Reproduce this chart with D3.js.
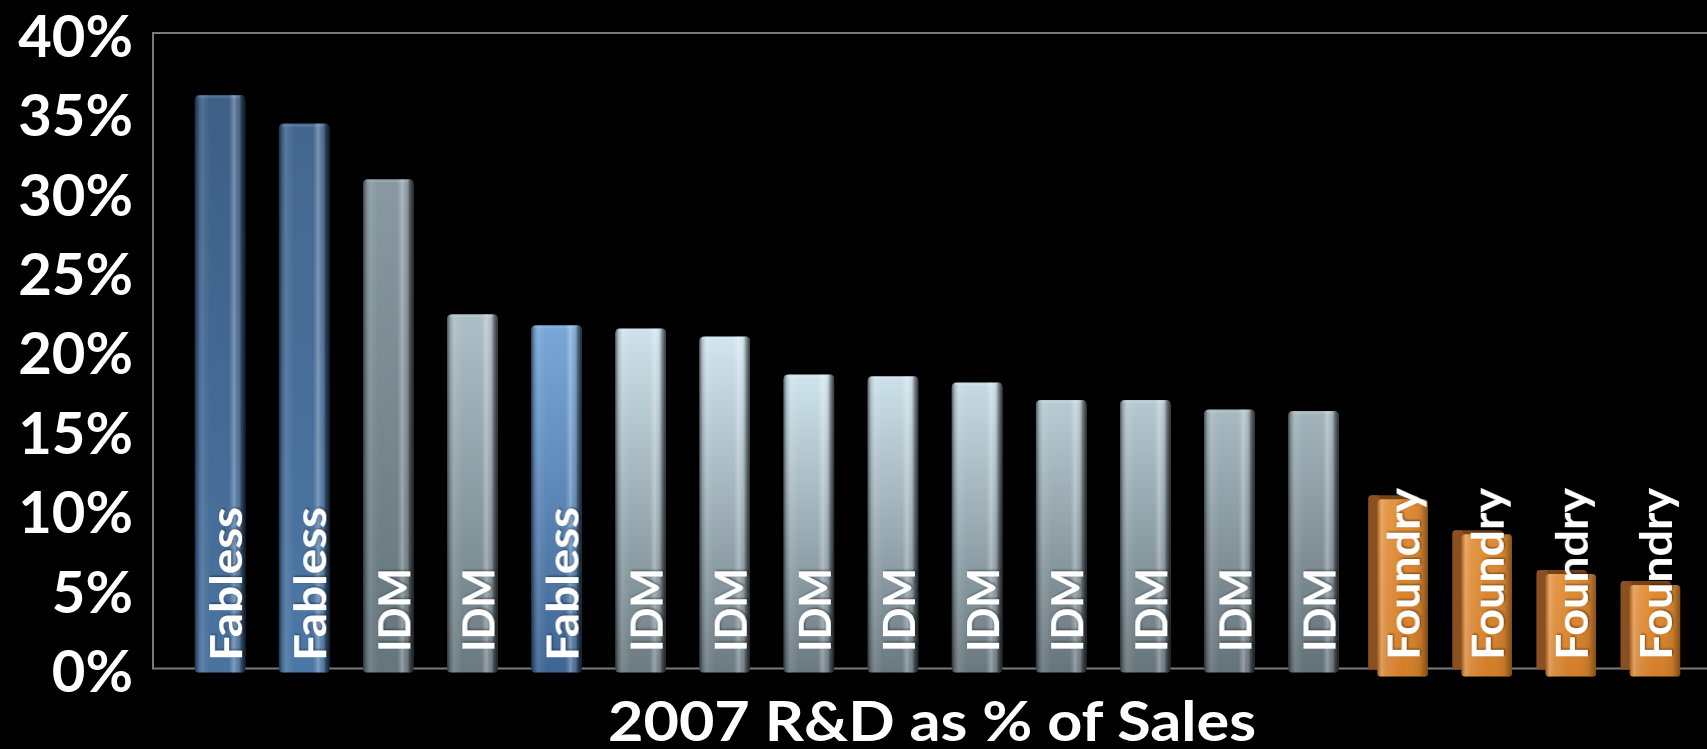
<!DOCTYPE html>
<html>
<head>
<meta charset="utf-8">
<script src="https://cdn.jsdelivr.net/npm/d3@7"></script>
<style>
  html, body { margin: 0; padding: 0; background: #000; overflow: hidden; }
  svg { display: block; }
</style>
</head>
<body>
<svg id="chart" width="1707" height="749"></svg>
<script>
// ---------------- data ----------------
const categories = ["Fabless","Fabless","IDM","IDM","Fabless","IDM","IDM","IDM","IDM","IDM","IDM","IDM","IDM","IDM","Foundry","Foundry","Foundry","Foundry"];
const values = [36.1, 34.3, 30.8, 22.3, 21.6, 21.4, 20.9, 18.5, 18.4, 18.0, 16.9, 16.9, 16.3, 16.2, 10.9, 8.7, 6.2, 5.5];
const yTickValues = [0, 5, 10, 15, 20, 25, 30, 35, 40];
const yTickLabels = ["0%", "5%", "10%", "15%", "20%", "25%", "30%", "35%", "40%"];
const xTitle = "2007 R&D as % of Sales";

// ---------------- styles (per bar vertical colours) ----------------
const barTop = ["#3e5f86","#44678f","#8899a1","#aebfc7","#79a7d7","#cfe2eb","#d2e6f0","#d0e4ee","#cde1ea","#c8dbe4","#b9ccd4","#b6c9d1","#a9bac2","#a3b4bc","#e28c33","#e28c33","#e28c33","#e28c33"];
const barBot = ["#4a73a0","#4c77a5","#65757c","#6b7a81","#3f6594","#6c7b82","#6c7b82","#6a7980","#6a7980","#69787f","#66747b","#66747b","#647279","#637178","#d27d28","#d27d28","#d27d28","#d27d28"];

const W = 1707, H = 749;
const frameLeft = 153, frameTop = 33, frameBottom = 668.5;
const font = "Lato, 'Open Sans', 'DejaVu Sans', sans-serif";

const svg = d3.select("#chart");
const defs = svg.append("defs");

const x = d3.scaleBand()
  .domain(d3.range(values.length))
  .range([178, 1692])
  .paddingInner(0.4)
  .paddingOuter(0.2);

const y = d3.scaleLinear().domain([0, 40]).range([frameBottom, frameTop]);

// horizontal shading overlay for cylinders
const hg = defs.append("linearGradient").attr("id", "hshade").attr("x1", 0).attr("x2", 1).attr("y1", 0).attr("y2", 0);
[[0, "#000", 0.55], [0.06, "#000", 0.15], [0.14, "#fff", 0.10], [0.30, "#fff", 0.0], [0.68, "#fff", 0.0],
 [0.78, "#fff", 0.30], [0.84, "#fff", 0.08], [0.92, "#000", 0.35], [1, "#000", 0.75]].forEach(s =>
  hg.append("stop").attr("offset", s[0]).attr("stop-color", s[1]).attr("stop-opacity", s[2]));

// foundry front shading
const fg = defs.append("linearGradient").attr("id", "fshade").attr("x1", 0).attr("x2", 1).attr("y1", 0).attr("y2", 0);
[[0, "#000", 0.25], [0.08, "#fff", 0.25], [0.18, "#fff", 0.12], [0.5, "#fff", 0.0], [0.85, "#000", 0.08], [1, "#000", 0.4]].forEach(s =>
  fg.append("stop").attr("offset", s[0]).attr("stop-color", s[1]).attr("stop-opacity", s[2]));

values.forEach((v, i) => {
  const g = defs.append("linearGradient").attr("id", "vg" + i).attr("x1", 0).attr("x2", 0).attr("y1", 0).attr("y2", 1);
  g.append("stop").attr("offset", 0).attr("stop-color", barTop[i]);
  g.append("stop").attr("offset", 1).attr("stop-color", barBot[i]);
});

// label shadow
const flt = defs.append("filter").attr("id", "tshadow").attr("x", "-20%").attr("y", "-20%").attr("width", "140%").attr("height", "140%");
flt.append("feDropShadow").attr("dx", 1).attr("dy", 1).attr("stdDeviation", 1.2).attr("flood-color", "#000").attr("flood-opacity", 0.5);

// ---------------- frame ----------------
svg.append("path")
  .attr("d", `M${W + 5},${frameTop}H${frameLeft}V${frameBottom}H${W + 5}`)
  .attr("fill", "none")
  .attr("stroke", "#7a7a7a")
  .attr("stroke-width", 2);

// ---------------- y axis ----------------
const yAxis = d3.axisLeft(y)
  .tickValues(yTickValues)
  .tickFormat((d, i) => yTickLabels[i])
  .tickSize(0)
  .tickPadding(20);

const ya = svg.append("g").attr("transform", `translate(${frameLeft},0)`).call(yAxis);
ya.select(".domain").remove();
ya.selectAll("text")
  .attr("fill", "#fff")
  .attr("font-family", font)
  .attr("font-weight", "bold")
  .attr("font-size", 58)
  .attr("dy", "0.40em");

// rounded-top bar path
function roundedBar(x0, y0, w, h, r, rb) {
  return `M${x0},${y0 + h - rb}` +
    `V${y0 + r}Q${x0},${y0} ${x0 + r},${y0}` +
    `H${x0 + w - r}Q${x0 + w},${y0} ${x0 + w},${y0 + r}` +
    `V${y0 + h - rb}Q${x0 + w},${y0 + h} ${x0 + w - rb},${y0 + h}` +
    `H${x0 + rb}Q${x0},${y0 + h} ${x0},${y0 + h - rb}Z`;
}

const bars = svg.append("g");
const bw = x.bandwidth();

values.forEach((v, i) => {
  const bx = x(i);
  const yt = y(v);
  const cat = categories[i];
  if (cat !== "Foundry") {
    const h = y(0) + 4 - yt;
    bars.append("path").attr("d", roundedBar(bx, yt, bw, h, 5, 4)).attr("fill", `url(#vg${i})`);
    bars.append("path").attr("d", roundedBar(bx, yt, bw, h, 5, 4)).attr("fill", "url(#hshade)");
    bars.append("rect").attr("x", bx + 3).attr("y", yt + 1).attr("width", bw - 8).attr("height", 2)
      .attr("fill", "#fff").attr("opacity", 0.12);
  } else {
    const side = 9, drop = 4;
    bars.append("path").attr("d", roundedBar(bx - 4, yt, bw, y(0) - yt + 1, 4, 3)).attr("fill", "#76421a");
    bars.append("path").attr("d", roundedBar(bx - 4, yt, side + 2, y(0) - yt + 1, 3, 2)).attr("fill", "#8a5022");
    bars.append("path").attr("d", roundedBar(bx - 4 + side, yt + drop, bw, y(0) + drop - yt, 4, 3)).attr("fill", `url(#vg${i})`);
    bars.append("path").attr("d", roundedBar(bx - 4 + side, yt + drop, bw, y(0) + drop - yt, 4, 3)).attr("fill", "url(#fshade)");
  }
});

// ---------------- bar labels ----------------
const labelStart = { "Fabless": 661, "IDM": 652, "Foundry": 660 };
const labelLen = { "Fabless": 154, "IDM": 84, "Foundry": 172 };

svg.append("g").selectAll("text")
  .data(categories)
  .join("text")
  .attr("transform", (d, i) => `translate(${x(i) + bw / 2 + 22},${labelStart[d]}) rotate(-90)`)
  .attr("fill", "#fff")
  .attr("font-family", font)
  .attr("font-weight", "bold")
  .attr("font-size", 43)
  .attr("textLength", d => labelLen[d])
  .attr("lengthAdjust", "spacingAndGlyphs")
  .attr("filter", "url(#tshadow)")
  .text(d => d);

// ---------------- x title ----------------
svg.append("text")
  .attr("x", 932)
  .attr("y", 741)
  .attr("text-anchor", "middle")
  .attr("fill", "#fff")
  .attr("font-family", font)
  .attr("font-weight", "bold")
  .attr("font-size", 56)
  .attr("textLength", 648)
  .attr("lengthAdjust", "spacingAndGlyphs")
  .text(xTitle);
</script>
</body>
</html>
